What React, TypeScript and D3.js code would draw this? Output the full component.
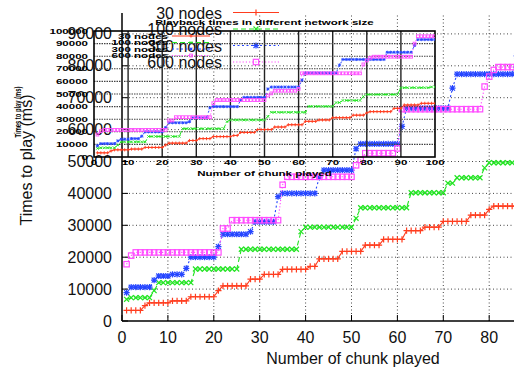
import * as d3 from 'd3'

// chunk index shared by all series (1..100)
const chunks = d3.range(1, 101)

// playback time (ms) per chunk
const nodes30 = [
  3300, 3300, 3300, 3300, 4800, 5700, 5700, 5700, 5700, 5700,
  6300, 6300, 6300, 6300, 7600, 7600, 7600, 7600, 7600, 7600,
  9500, 11000, 11000, 11000, 11000, 11000, 11000, 13100, 13100, 13100,
  14600, 14600, 14600, 14600, 16200, 16200, 16200, 16200, 16200, 16200,
  17100, 17100, 19500, 19500, 19500, 19500, 19500, 21800, 21800, 21800,
  21800, 21800, 23800, 23800, 23800, 23800, 25600, 25600, 25600, 25600,
  25600, 28300, 28300, 28300, 28300, 29400, 29400, 29400, 29400, 31200,
  31200, 31200, 31200, 31200, 31200, 33200, 33200, 33200, 33200, 35000,
  36000, 36000, 36000, 36000, 36000, 36000, 36000, 38600, 38600, 38600,
  41300, 41300, 41300, 41300, 41300, 42600, 42600, 42600, 42600, 42600,
]
const nodes100 = [
  6800, 7300, 7300, 7300, 7300, 7300, 9500, 12000, 12000, 12000,
  12000, 12000, 12000, 12000, 12000, 16300, 16300, 16300, 16300, 16300,
  16300, 16300, 16300, 16300, 16300, 22500, 22500, 22500, 22500, 22500,
  22500, 22500, 22500, 22500, 22500, 22500, 22500, 22500, 28000, 29400,
  29400, 29400, 29400, 29400, 29400, 29400, 29400, 29400, 29400, 29400,
  32200, 35500, 35500, 35500, 35500, 35500, 35500, 35500, 35500, 35500,
  35500, 35500, 40200, 40200, 40200, 40200, 40200, 40200, 40200, 40200,
  43200, 43200, 44900, 44900, 44900, 44900, 44900, 44900, 48000, 49600,
  49600, 49600, 49600, 49600, 49600, 49600, 49600, 49600, 49600, 55000,
  55000, 55000, 55000, 55000, 55000, 55000, 55000, 55000, 55600, 55600,
]
const nodes300 = [
  8900, 10600, 10600, 10600, 10600, 10600, 12800, 14100, 14100, 14100,
  14600, 14600, 14600, 16500, 20000, 20000, 20000, 20000, 20000, 20000,
  23300, 27200, 27200, 27200, 27200, 27200, 27200, 28000, 31100, 31100,
  31100, 31100, 31100, 39000, 40000, 40000, 40000, 40000, 40000, 40000,
  40000, 40000, 45000, 47300, 47300, 47300, 47300, 47300, 47300, 47300,
  54000, 55500, 55500, 55500, 55500, 55500, 55500, 55500, 55500, 55500,
  61000, 66700, 66700, 66700, 66700, 66700, 66700, 66700, 66700, 66700,
  66700, 73000, 77400, 77400, 77400, 77400, 77400, 77400, 77400, 77400,
  77400, 77400, 77400, 77400, 77400, 83100, 83100, 83100, 83100, 83100,
  83100, 83100, 83100, 88500, 93200, 93200, 93200, 93200, 93200, 93200,
]
const nodes600 = [
  17800, 20500, 21500, 21500, 21500, 21500, 21500, 21500, 21500, 21500,
  21500, 21500, 21500, 21500, 21500, 21500, 21500, 21500, 21500, 21500,
  21500, 29000, 29000, 31600, 31600, 31600, 31600, 31600, 31600, 31600,
  31600, 31600, 31600, 31600, 42700, 45200, 45200, 45200, 45200, 45200,
  45200, 45200, 45200, 45200, 45200, 45200, 45200, 45200, 45200, 45200,
  48800, 50500, 52600, 52600, 52600, 52600, 52600, 52600, 52600, 54100,
  66400, 66400, 66400, 66400, 66400, 66400, 66400, 66400, 66400, 66400,
  66400, 66400, 66400, 66400, 66400, 66400, 66400, 66400, 73500, 76600,
  78700, 79600, 79600, 79600, 79600, 79600, 79600, 79600, 79600, 79600,
  79600, 79600, 79600, 90000, 95800, 95800, 95800, 95800, 95800, 95800,
]

const seriesNames = ['30 nodes', '100 nodes', '300 nodes', '600 nodes']
const mainXTicks = [0, 10, 20, 30, 40, 50, 60, 70, 80]
const mainYTicks = [0, 10000, 20000, 30000, 40000, 50000, 60000, 70000, 80000, 90000]
const insetXTicks = [0, 10, 20, 30, 40, 50, 60, 70, 80, 90, 100]
const insetYTicks = [0, 10000, 20000, 30000, 40000, 50000, 60000, 70000, 80000, 90000, 100000]

type Marker = 'plus' | 'cross' | 'star' | 'square'
const series = [
  { name: seriesNames[0], values: nodes30, color: '#ff3c1e', dash: undefined, marker: 'plus' as Marker },
  { name: seriesNames[1], values: nodes100, color: '#22e422', dash: '5,3', marker: 'cross' as Marker },
  { name: seriesNames[2], values: nodes300, color: '#2646ff', dash: '2,2.5', marker: 'star' as Marker },
  { name: seriesNames[3], values: nodes600, color: '#ff4cff', dash: '1.2,2', marker: 'square' as Marker },
]

const FONT = 'Liberation Sans, Arial, Helvetica, sans-serif'

function Mark({ type, x, y, s, color, sw }: { type: Marker; x: number; y: number; s: number; color: string; sw: number }) {
  const plus = `M${x - s},${y}H${x + s}M${x},${y - s}V${y + s}`
  const k = s * 0.8
  const cross = `M${x - k},${y - k}L${x + k},${y + k}M${x - k},${y + k}L${x + k},${y - k}`
  if (type === 'square') {
    return <rect x={x - s} y={y - s} width={2 * s} height={2 * s} fill="none" stroke={color} strokeWidth={sw} />
  }
  const d = type === 'plus' ? plus : type === 'cross' ? cross : plus + cross
  return <path d={d} stroke={color} strokeWidth={sw} fill="none" />
}

// the inset figure is stretched sideways, so its text is too
function SText({ x, y, anchor = 'middle', size = 7, rot, children }: {
  x: number; y: number; anchor?: string; size?: number; rot?: number; children: React.ReactNode
}) {
  return (
    <text
      transform={`translate(${x},${y}) scale(1.65,1)${rot ? ` rotate(${rot})` : ''}`}
      textAnchor={anchor} fontSize={size} fontWeight="bold" fill="#000" fontFamily={FONT}
    >{children}</text>
  )
}

export default function App() {
  const W = 514, H = 371

  // main chart
  const mx = d3.scaleLinear().domain([0, 100]).range([122, 581])
  const my = d3.scaleLinear().domain([0, 100000]).range([321, 2])
  // inset chart
  const ix = d3.scaleLinear().domain([0, 100]).range([94, 435])
  const iy = d3.scaleLinear().domain([0, 100000]).range([157, 31])

  const mainLine = d3.line<number>().x((_, i) => mx(chunks[i])).y(d => my(d))
  const insetLine = d3.line<number>().x((_, i) => ix(chunks[i])).y(d => iy(d))

  return (
    <div style={{ position: 'fixed', left: 0, top: 0 }}>
      <svg width={W} height={H} style={{ display: 'block', background: '#fff' }} fontFamily={FONT}>
        <defs>
          <clipPath id="mainClip"><rect x={122} y={7} width={W - 122} height={321 - 7} /></clipPath>
          <clipPath id="insetClip"><rect x={94} y={31} width={435 - 94} height={157 - 31} /></clipPath>
        </defs>

        {/* ---------- main chart ---------- */}
        <g>
          {mainXTicks.filter(t => t > 0).map(t => (
            <line key={'gx' + t} x1={mx(t)} x2={mx(t)} y1={my(0)} y2={13}
              stroke="#444" strokeWidth={1} strokeDasharray="1,2.5" />
          ))}
          {mainYTicks.filter(t => t > 0).map(t => (
            <line key={'gy' + t} x1={mx(0)} x2={W} y1={my(t)} y2={my(t)}
              stroke="#444" strokeWidth={1} strokeDasharray="1,2.5" />
          ))}
          <line x1={mx(0)} x2={mx(0)} y1={my(0)} y2={13} stroke="#000" strokeWidth={1.5} />
          <line x1={mx(0)} x2={W} y1={my(0)} y2={my(0)} stroke="#000" strokeWidth={1.5} />
          {mainYTicks.map(t => (
            <g key={'ty' + t}>
              <line x1={mx(0)} x2={mx(0) + 6} y1={my(t)} y2={my(t)} stroke="#000" />
              <text x={112} y={my(t) + 5.5} textAnchor="end" fontSize={16} fill="#111">{t}</text>
            </g>
          ))}
          {mainXTicks.map(t => (
            <g key={'tx' + t}>
              <line x1={mx(t)} x2={mx(t)} y1={my(0)} y2={my(0) - 6} stroke="#000" />
              <text x={mx(t)} y={343} textAnchor="middle" fontSize={16} fill="#111">{t}</text>
            </g>
          ))}
          <text x={353} y={364} textAnchor="middle" fontSize={16} fill="#111">Number of chunk played</text>
          <text transform="translate(32,160) rotate(-90)" textAnchor="middle" fontSize={16} fill="#111">Times to play (ms)</text>

          <g clipPath="url(#mainClip)">
            {series.map(s => (
              <g key={'m' + s.name}>
                <path d={mainLine(s.values) ?? ''} fill="none" stroke={s.color} strokeWidth={1.1}
                  strokeDasharray={s.dash} />
                {s.values.map((v, i) => (
                  <Mark key={i} type={s.marker} x={mx(chunks[i])} y={my(v)}
                    s={s.marker === 'square' ? 2.7 : 3.1} color={s.color} sw={1.2} />
                ))}
              </g>
            ))}
          </g>

          {series.map((s, i) => {
            const by = 18.5 + i * 16.5
            return (
              <g key={'ml' + s.name}>
                <text x={222} y={by} textAnchor="end" fontSize={16} fill="#111">{s.name}</text>
                <line x1={233} x2={279} y1={by - 6} y2={by - 6} stroke={s.color} strokeWidth={1.1} strokeDasharray={s.dash} />
                <Mark type={s.marker} x={256} y={by - 6} s={s.marker === 'square' ? 2.7 : 3.1} color={s.color} sw={1.2} />
              </g>
            )
          })}
        </g>

        {/* ---------- inset chart ---------- */}
        <g>
          {insetXTicks.filter(t => t > 0 && t < 100).map(t => (
            <line key={'igx' + t} x1={ix(t)} x2={ix(t)} y1={iy(0)} y2={iy(100000)}
              stroke="#222" strokeWidth={1.4} />
          ))}
          {insetYTicks.filter(t => t > 0 && t < 100000).map(t => (
            <line key={'igy' + t} x1={ix(0)} x2={ix(100)} y1={iy(t)} y2={iy(t)}
              stroke="#444" strokeWidth={1.1} strokeDasharray="1.5,1" />
          ))}
          <rect x={ix(0)} y={iy(100000)} width={ix(100) - ix(0)} height={iy(0) - iy(100000)}
            fill="none" stroke="#000" strokeWidth={1.6} />
          {insetYTicks.map(t => (
            <SText key={'ity' + t} x={88} y={iy(t) + 2.5} anchor="end">{t}</SText>
          ))}
          {insetXTicks.map(t => (
            <SText key={'itx' + t} x={ix(t)} y={164.5}>{t}</SText>
          ))}
          <SText x={264.5} y={24.5}>Playback times in different network size</SText>
          <SText x={264.5} y={175.5}>Number of chunk played</SText>
          <SText x={21} y={112} size={5.8} rot={-90}>Times to play (ms)</SText>

          <g clipPath="url(#insetClip)">
            {series.map(s => (
              <g key={'i' + s.name}>
                <path d={insetLine(s.values) ?? ''} fill="none" stroke={s.color} strokeWidth={1}
                  strokeDasharray={s.dash} />
                {s.values.map((v, i) => (
                  <Mark key={i} type={s.marker} x={ix(chunks[i])} y={iy(v)}
                    s={s.marker === 'square' ? 1.4 : 1.6} color={s.color} sw={0.9} />
                ))}
              </g>
            ))}
          </g>

          {series.map((s, i) => {
            const by = 38.5 + i * 6.5
            return (
              <g key={'il' + s.name}>
                <SText x={168} y={by} anchor="end">{s.name}</SText>
                <line x1={172} x2={210} y1={by - 2.5} y2={by - 2.5} stroke={s.color} strokeDasharray={s.dash} />
                <Mark type={s.marker} x={191} y={by - 2.5} s={s.marker === 'square' ? 1.4 : 1.6} color={s.color} sw={0.9} />
              </g>
            )
          })}
        </g>

        <rect x={0} y={0} width={W} height={7} fill="#fff" />
      </svg>
    </div>
  )
}
